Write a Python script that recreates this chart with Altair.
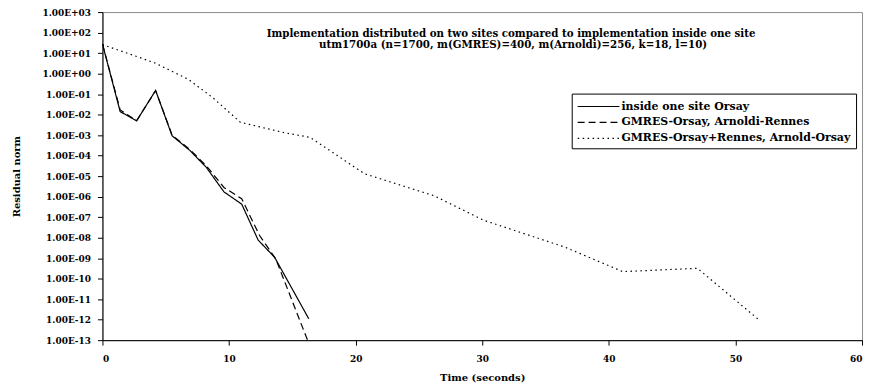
import altair as alt
import pandas as pd

# ---------------- data ----------------
series_names = [
    "inside one site Orsay",
    "GMRES-Orsay, Arnoldi-Rennes",
    "GMRES-Orsay+Rennes, Arnold-Orsay",
]

time_orsay = [0.0, 1.4, 2.7, 4.2, 5.5, 6.9, 8.2, 9.6, 11.0, 12.3, 13.6, 16.3]
resid_orsay = [2.8e1, 1.4e-2, 5.0e-3, 1.5e-1, 9.3e-4, 1.8e-4, 2.7e-5, 1.7e-6,
               4.3e-7, 7.6e-9, 1.1e-9, 1.1e-12]

time_rennes = [0.0, 1.4, 2.7, 4.2, 5.5, 6.9, 8.2, 9.6, 11.0, 12.4, 13.7, 16.2]
resid_rennes = [2.8e1, 1.7e-2, 5.0e-3, 1.5e-1, 1.0e-3, 2.0e-4, 3.2e-5, 2.8e-6,
                7.9e-7, 1.3e-8, 8.9e-10, 1.0e-13]

time_split = [0.0, 4.1, 6.8, 8.7, 10.9, 14.4, 16.4, 20.7, 26.2, 30.1, 36.5,
              41.1, 47.0, 51.9]
resid_split = [2.6e1, 3.4, 5.2e-1, 6.8e-2, 4.2e-3, 1.3e-3, 7.8e-4, 1.3e-5,
               1.1e-6, 7.1e-8, 3.5e-9, 2.2e-10, 3.2e-10, 9.3e-13]

x_ticks = [0, 10, 20, 30, 40, 50, 60]
y_exponents = list(range(-13, 4))

title_line1 = "Implementation distributed on two sites compared to implementation inside one site"
title_line2 = "utm1700a (n=1700, m(GMRES)=400, m(Arnoldi)=256, k=18, l=10)"

# ---------------- table ----------------
rows = []
for name, ts, rs in zip(series_names,
                        [time_orsay, time_rennes, time_split],
                        [resid_orsay, resid_rennes, resid_split]):
    for t, r in zip(ts, rs):
        rows.append({"series": name, "time": t, "residual": r})
df = pd.DataFrame(rows)

y_ticks = [10.0 ** k for k in y_exponents]

FONT = "DejaVu Serif"
exp = "round(log(datum.value)/LN10)"
label_expr = ("'1.00E' + (" + exp + " >= 0 ? '+' : '-') + "
              "(abs(" + exp + ") < 10 ? '0' : '') + abs(" + exp + ")")

legend = alt.Legend(
    title=None, orient="none", legendX=472, legendY=82, direction="vertical",
    strokeColor="black", fillColor="white", padding=5,
    symbolType="M-1,0H5", symbolSize=196, symbolStrokeWidth=1.2,
    symbolStrokeColor="black", symbolFillColor="transparent",
    labelFont=FONT, labelFontWeight="bold", labelFontSize=11,
    labelColor="black", labelLimit=0, labelOffset=29, rowPadding=3,
)

lines = alt.Chart(df).mark_line(strokeWidth=1.2, clip=True).encode(
    x=alt.X("time:Q",
            scale=alt.Scale(domain=[0, 60], nice=False, zero=False),
            axis=alt.Axis(values=x_ticks, title="Time (seconds)",
                          labelPadding=9, titleY=38, titleBaseline="middle")),
    y=alt.Y("residual:Q",
            scale=alt.Scale(type="log", domain=[1e-13, 1e3], nice=False),
            axis=alt.Axis(values=y_ticks, labelExpr=label_expr,
                          title="Residual norm", labelPadding=7,
                          titleX=-86, titleY=165, titleBaseline="middle",
                          titleAngle=270)),
    color=alt.Color("series:N",
                    scale=alt.Scale(domain=series_names,
                                    range=["#000000", "#000000", "#000000"]),
                    legend=legend),
    strokeDash=alt.StrokeDash("series:N",
                              scale=alt.Scale(domain=series_names,
                                              range=[[1, 0], [7, 4], [1.5, 3.5]]),
                              legend=legend),
    order="time:Q",
)

t1 = alt.Chart(pd.DataFrame({"t": [title_line1]})).mark_text(
    font=FONT, fontWeight="bold", fontSize=10.3, color="black",
    align="center", baseline="middle",
).encode(text="t:N", x=alt.value(411), y=alt.value(22))

t2 = alt.Chart(pd.DataFrame({"t": [title_line2]})).mark_text(
    font=FONT, fontWeight="bold", fontSize=10.3, color="black",
    align="center", baseline="middle",
).encode(text="t:N", x=alt.value(413), y=alt.value(33))

chart = alt.layer(lines, t1, t2).properties(
    width=764, height=330,
    autosize=alt.AutoSizeParams(type="none"),
    padding={"left": 95, "top": 3, "right": 5, "bottom": 45},
    background="white",
).configure_view(
    stroke="#8c8c8c", strokeWidth=1,
).configure_axis(
    grid=False, domainColor="black", domainWidth=1,
    tickColor="black", tickSize=5, tickWidth=1,
    labelFont=FONT, labelFontWeight="bold", labelFontSize=9, labelColor="black",
    titleFont=FONT, titleFontWeight="bold", titleFontSize=10, titleColor="black",
)

chart.save("out.html", embed_options={"renderer": "svg", "actions": False})
